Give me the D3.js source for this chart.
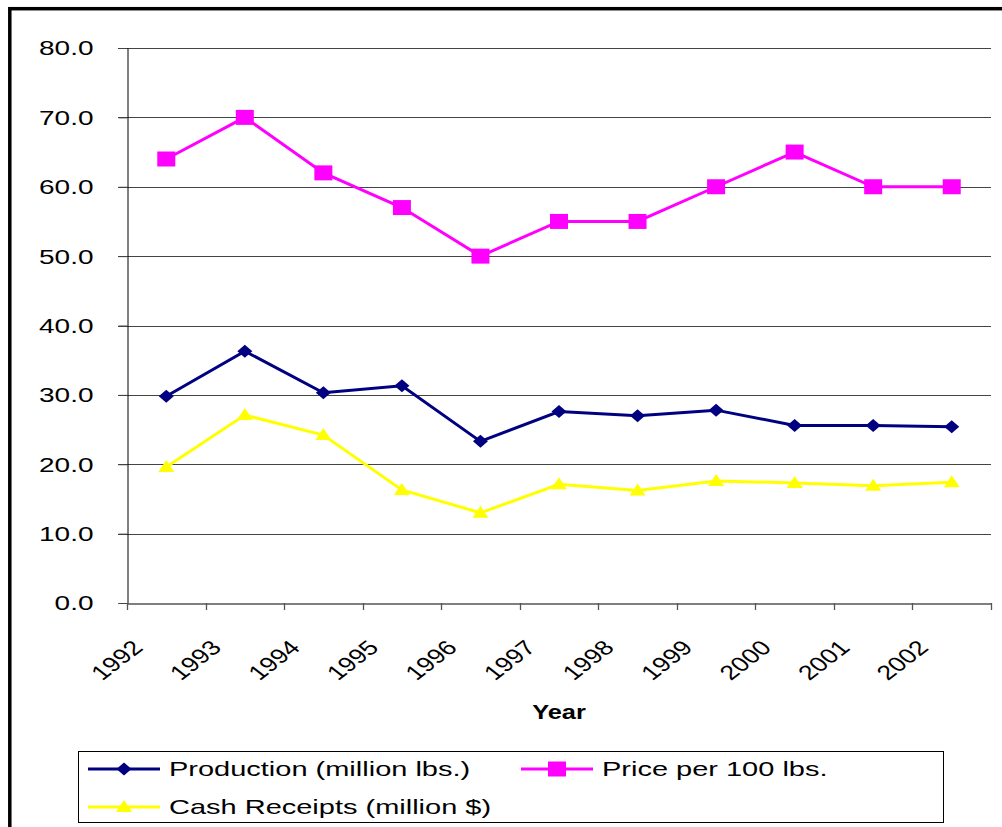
<!DOCTYPE html>
<html>
<head>
<meta charset="utf-8">
<script src="https://cdn.jsdelivr.net/npm/d3@7"></script>
<style>
  body { margin: 0; background: #fff; }
  text { font-family: "Liberation Sans", Arial, sans-serif; fill: #000; }
</style>
</head>
<body>
<div id="chart"></div>
<script>
const width = 1002,
  height = 827,
  margin = { top: 48, bottom: 224, left: 127, right: 11 };

// data
const years = ["1992", "1993", "1994", "1995", "1996", "1997", "1998", "1999", "2000", "2001", "2002"];
const production = [29.8, 36.3, 30.3, 31.3, 23.3, 27.6, 27.0, 27.8, 25.6, 25.6, 25.4];
const price = [64, 70, 62, 57, 50, 55, 55, 60, 65, 60, 60];
const cashReceipts = [19.6, 27.1, 24.2, 16.3, 13.0, 17.1, 16.2, 17.6, 17.3, 16.9, 17.4];
const yTicks = [0, 10, 20, 30, 40, 50, 60, 70, 80];

const series = [
  { name: "Production (million lbs.)", values: production, color: "#000080", marker: "diamond" },
  { name: "Price per 100 lbs.", values: price, color: "#ff00ff", marker: "square" },
  { name: "Cash Receipts (million $)", values: cashReceipts, color: "#ffff00", marker: "triangle" }
];

const svg = d3.select("#chart")
  .append("svg")
  .attr("width", width)
  .attr("height", height);

// outer frame
svg.append("rect")
  .attr("x", 9.8)
  .attr("y", 8.7)
  .attr("width", width + 20)
  .attr("height", height + 20)
  .attr("fill", "none")
  .attr("stroke", "#000")
  .attr("stroke-width", 3.5);

const xScale = d3.scaleBand()
  .domain(years)
  .range([margin.left, width - margin.right])
  .padding(0);

const yScale = d3.scaleLinear()
  .domain([0, 80])
  .range([height - margin.bottom, margin.top]);

// gridlines
svg.append("g")
  .selectAll("line")
  .data(yTicks.filter(d => d > 0))
  .join("line")
  .attr("x1", margin.left - 9)
  .attr("x2", width - margin.right)
  .attr("y1", d => Math.round(yScale(d)) + 0.5)
  .attr("y2", d => Math.round(yScale(d)) + 0.5)
  .attr("stroke", "#444")
  .attr("stroke-width", 1.2);

// y axis
const yAxis = d3.axisLeft(yScale).tickValues(yTicks).tickSize(9).tickFormat(d3.format(".1f"));
const yG = svg.append("g")
  .attr("transform", `translate(${margin.left + 0.5},0)`)
  .call(yAxis);
yG.select(".domain").attr("stroke", "#000");
yG.selectAll(".tick line").attr("stroke", "#444");
yG.selectAll(".tick text")
  .attr("x", null)
  .attr("dy", null)
  .attr("text-anchor", "end")
  .attr("dominant-baseline", "central")
  .attr("transform", "translate(-34,0) scale(1.4,1)")
  .style("font-size", "20px")
  .style("font-family", "'Liberation Sans', Arial, sans-serif")
  .attr("fill", "#000");

// x axis
const xAxis = d3.axisBottom(xScale).tickSize(0).tickFormat("");
const xG = svg.append("g")
  .attr("transform", `translate(0,${height - margin.bottom + 0.5})`)
  .call(xAxis);
xG.select(".domain").attr("stroke", "#555").attr("stroke-width", 1.5);

// x ticks at band edges
const edges = years.map(d => xScale(d)).concat([width - margin.right]);
svg.append("g")
  .selectAll("line")
  .data(edges)
  .join("line")
  .attr("x1", d => Math.round(d) + 0.5)
  .attr("x2", d => Math.round(d) + 0.5)
  .attr("y1", height - margin.bottom)
  .attr("y2", height - margin.bottom + 7)
  .attr("stroke", "#555")
  .attr("stroke-width", 1.3);

// x labels
svg.append("g")
  .selectAll("text")
  .data(years)
  .join("text")
  .attr("text-anchor", "end")
  .attr("transform", d => `translate(${xScale(d) + xScale.bandwidth() / 2 - 22},649) scale(1.3,1) rotate(-45)`)
  .style("font-size", "20.5px")
  .text(d => d);

// x title
svg.append("text")
  .attr("text-anchor", "middle")
  .attr("transform", `translate(${(margin.left + width - margin.right) / 2},719) scale(1.27,1)`)
  .style("font-size", "20px")
  .style("font-weight", "bold")
  .text("Year");

// markers
function markerPath(type) {
  if (type === "diamond") return "M0,-6.5L7.5,0L0,6.5L-7.5,0Z";
  if (type === "square") return "M-9,-7.5L9,-7.5L9,7.5L-9,7.5Z";
  return "M0,-7L8,5L-8,5Z";
}

const line = d3.line()
  .x((d, i) => xScale(years[i]) + xScale.bandwidth() / 2)
  .y(d => yScale(d));

series.forEach(s => {
  svg.append("path")
    .datum(s.values)
    .attr("d", line)
    .attr("fill", "none")
    .attr("stroke", s.color)
    .attr("stroke-width", 3);

  svg.append("g")
    .selectAll("path")
    .data(s.values)
    .join("path")
    .attr("d", markerPath(s.marker))
    .attr("transform", (d, i) => `translate(${xScale(years[i]) + xScale.bandwidth() / 2},${yScale(d)})`)
    .attr("fill", s.color);
});

// legend
const legend = svg.append("g");
legend.append("rect")
  .attr("x", 78.5)
  .attr("y", 751.5)
  .attr("width", 865)
  .attr("height", 71)
  .attr("fill", "#fff")
  .attr("stroke", "#000")
  .attr("stroke-width", 1);

const legendPos = [
  { x: 88, y: 769 },
  { x: 521, y: 769 },
  { x: 88, y: 807 }
];

series.forEach((s, i) => {
  const p = legendPos[i];
  const g = legend.append("g").attr("transform", `translate(${p.x},${p.y})`);
  g.append("line")
    .attr("x1", 0)
    .attr("x2", 72)
    .attr("stroke", s.color)
    .attr("stroke-width", 3);
  g.append("path")
    .attr("d", markerPath(s.marker))
    .attr("transform", "translate(36,0)")
    .attr("fill", s.color);
  g.append("text")
    .attr("dominant-baseline", "central")
    .attr("transform", "translate(81,0) scale(1.45,1)")
    .style("font-size", "20px")
    .text(s.name);
});
</script>
</body>
</html>
